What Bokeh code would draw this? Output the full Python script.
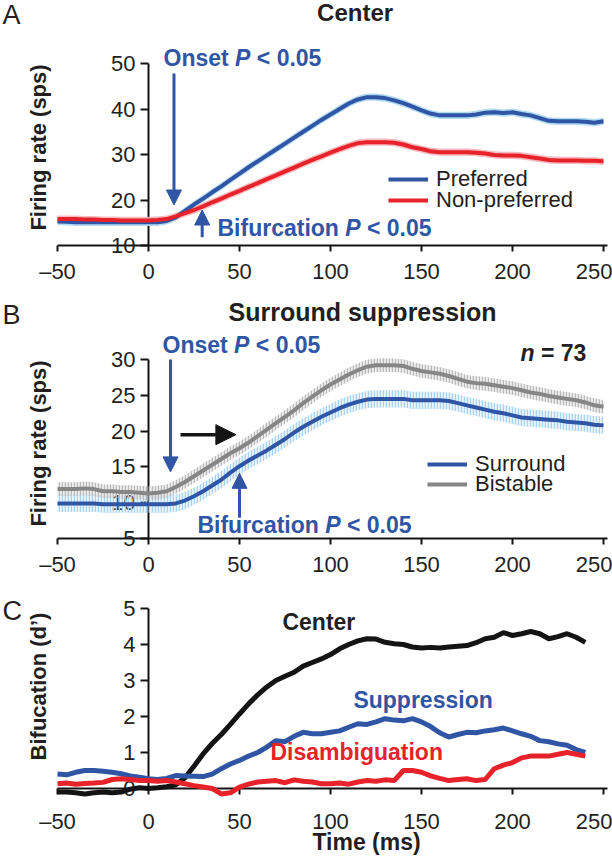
import math
from bokeh.plotting import figure
from bokeh.models import (LinearAxis, FixedTicker, Label, Arrow, NormalHead, Range1d,
                          Legend, LegendItem)
from bokeh.layouts import column
from bokeh.embed import file_html
from bokeh.resources import INLINE

# ---------------- data ----------------
time_ab = list(range(-50, 255, 5))
x_ticks = [-50, 0, 50, 100, 150, 200, 250]
x_tick_text = {-50: "\u201350"}

a_y_ticks = [10, 20, 30, 40, 50]
b_y_ticks = [5, 10, 15, 20, 25, 30]
c_y_ticks = [0, 1, 2, 3, 4, 5]

preferred = [15.3, 15.2, 15.1, 15.1, 15.1, 15.1, 15.1, 15.1, 15.1, 15.1,
             15.1, 15.1, 15.4, 16.2, 17.6, 19.0, 20.3, 21.7, 23.0, 24.4,
             25.8, 27.2, 28.5, 29.8, 31.1, 32.4, 33.7, 35.0, 36.3, 37.6,
             38.8, 40.0, 41.2, 42.1, 42.6, 42.6, 42.4, 41.9, 41.3, 40.5,
             39.7, 39.0, 38.6, 38.6, 38.6, 38.6, 38.8, 39.2, 39.3, 39.1,
             39.3, 38.9, 38.6, 38.0, 37.4, 37.3, 37.3, 37.3, 37.2, 37.0,
             37.3]
non_preferred = [15.8, 15.8, 15.8, 15.7, 15.7, 15.6, 15.6, 15.5, 15.5, 15.5,
                 15.5, 15.6, 15.8, 16.4, 17.1, 17.8, 18.6, 19.5, 20.3, 21.2,
                 22.0, 22.9, 23.7, 24.6, 25.4, 26.3, 27.1, 28.0, 28.8, 29.6,
                 30.4, 31.2, 31.9, 32.5, 32.7, 32.7, 32.7, 32.6, 32.2, 31.6,
                 31.2, 30.7, 30.5, 30.5, 30.5, 30.5, 30.4, 30.2, 29.9, 29.8,
                 29.8, 29.7, 29.4, 29.1, 28.8, 28.7, 28.7, 28.7, 28.6, 28.6,
                 28.5]
sem_a = 0.8

surround = [9.9, 9.9, 9.9, 9.9, 9.9, 9.8, 9.8, 9.8, 9.8, 9.8,
            9.8, 9.8, 9.8, 9.9, 10.3, 10.9, 11.6, 12.4, 13.2, 14.2,
            15.1, 15.9, 16.6, 17.3, 18.1, 18.9, 19.8, 20.6, 21.3, 22.0,
            22.6, 23.2, 23.7, 24.1, 24.4, 24.5, 24.5, 24.5, 24.5, 24.3,
            24.3, 24.3, 24.3, 24.2, 23.9, 23.6, 23.3, 23.0, 22.7, 22.5,
            22.2, 21.9, 21.8, 21.7, 21.6, 21.5, 21.3, 21.2, 21.1, 20.9,
            20.8]
bistable = [11.9, 11.9, 11.9, 12.0, 11.9, 11.6, 11.6, 11.5, 11.5, 11.4,
            11.3, 11.4, 11.6, 12.2, 12.9, 13.7, 14.5, 15.3, 16.1, 16.9,
            17.6, 18.4, 19.3, 20.2, 21.1, 22.0, 22.9, 23.9, 24.8, 25.7,
            26.5, 27.2, 27.9, 28.5, 29.0, 29.2, 29.2, 29.2, 29.1, 28.7,
            28.4, 28.2, 28.0, 27.7, 27.3, 26.9, 26.7, 26.6, 26.4, 26.2,
            26.0, 25.7, 25.4, 25.2, 24.9, 24.7, 24.5, 24.3, 24.0, 23.6,
            23.4]
sem_surround = 1.2
sem_bistable = 0.95

time_c = list(range(-50, 245, 5))
center_d = [-0.10, -0.10, -0.12, -0.15, -0.12, -0.10, -0.12, -0.10, -0.02, 0.02,
            0.00, 0.02, 0.05, 0.10, 0.30, 0.62, 0.96, 1.25, 1.50, 1.78,
            2.07, 2.35, 2.60, 2.82, 3.00, 3.12, 3.23, 3.40, 3.50, 3.60,
            3.72, 3.88, 4.00, 4.10, 4.16, 4.15, 4.06, 4.02, 4.00, 3.93,
            3.90, 3.92, 3.90, 3.93, 3.95, 3.97, 4.05, 4.16, 4.20, 4.33,
            4.25, 4.30, 4.36, 4.30, 4.16, 4.22, 4.30, 4.20, 4.06]
suppression_d = [0.40, 0.38, 0.45, 0.50, 0.50, 0.48, 0.45, 0.41, 0.35, 0.31,
                 0.27, 0.25, 0.28, 0.36, 0.35, 0.34, 0.33, 0.40, 0.55, 0.68,
                 0.78, 0.90, 1.00, 1.15, 1.33, 1.30, 1.45, 1.56, 1.52, 1.52,
                 1.56, 1.60, 1.70, 1.80, 1.78, 1.85, 1.94, 1.90, 1.88, 1.94,
                 1.85, 1.72, 1.55, 1.43, 1.50, 1.56, 1.55, 1.60, 1.63, 1.68,
                 1.60, 1.52, 1.45, 1.33, 1.30, 1.24, 1.20, 1.08, 1.00]
disamb_d = [0.13, 0.15, 0.12, 0.14, 0.15, 0.17, 0.25, 0.27, 0.25, 0.22,
            0.22, 0.20, 0.22, 0.18, 0.13, 0.08, 0.04, 0.00, -0.15, -0.12,
            0.04, 0.12, 0.18, 0.20, 0.22, 0.16, 0.24, 0.20, 0.18, 0.13,
            0.13, 0.15, 0.12, 0.18, 0.22, 0.20, 0.24, 0.22, 0.50, 0.50,
            0.45, 0.35, 0.28, 0.22, 0.25, 0.27, 0.22, 0.25, 0.55, 0.65,
            0.72, 0.85, 0.90, 0.90, 0.90, 0.95, 1.00, 0.95, 0.90]

# annotation positions (ms / data units)
a_onset_t, a_bif_t = 14.0, 29.5
b_onset_t, b_bif_t = 12.1, 50.0

# ---------------- style ----------------
FONT = "Liberation Sans"
BLUE = "#2f55a4"
RED = "#e8222b"
LBLUE = "#b3dbf0"
PINK = "#f5b3b8"
GRAY = "#868686"
LGRAY = "#b9b9b9"
HBLUE = "#a9d3ee"
BLACK = "#141414"
TXT = "#231f20"

W = 612
X0, SX = 148.0, 1.82
XR = (-X0 / SX, (W - X0) / SX)
T_LEFT = (2 - X0) / SX


def make_fig(h, yr):
    p = figure(width=W, height=h, x_range=Range1d(*XR), y_range=Range1d(*yr),
               x_axis_type=None, y_axis_type=None, toolbar_location=None,
               output_backend="svg", min_border=0, outline_line_color=None)
    p.min_border_left = p.min_border_right = p.min_border_top = p.min_border_bottom = 0
    return p


def add_axes(p, xloc, xbounds, yticks, ybounds, xstandoff):
    xa = LinearAxis(fixed_location=xloc, bounds=xbounds, ticker=FixedTicker(ticks=x_ticks),
                    major_label_overrides=x_tick_text)
    ya = LinearAxis(fixed_location=0, bounds=ybounds, ticker=FixedTicker(ticks=yticks))
    for ax, so, out in ((xa, xstandoff, 6), (ya, 5, 8)):
        ax.axis_line_color = BLACK
        ax.axis_line_width = 2
        ax.major_tick_line_color = BLACK
        ax.major_tick_line_width = 2
        ax.major_tick_in = 0
        ax.major_tick_out = out
        ax.minor_tick_line_color = None
        ax.major_label_text_font = FONT
        ax.major_label_text_font_size = "22px"
        ax.major_label_text_color = TXT
        ax.major_label_standoff = so
        ax.level = "underlay"
    p.add_layout(xa, "below")
    p.add_layout(ya, "left")


def text(p, x, y, s, size=23, color=TXT, style="bold", align="left",
         baseline="alphabetic", xoff=0, angle=0.0):
    yoff = round(0.4 * size) if baseline == "alphabetic" else 0
    p.add_layout(Label(x=x, y=y, text=s, text_font=FONT, text_font_size=f"{size}px",
                       text_font_style=style, text_color=color, text_align=align,
                       text_baseline=baseline, x_offset=xoff, y_offset=yoff, angle=angle))


def p_text(p, x, y, first, color):
    # "<first> P < 0.05" with italic P, 23px bold Arial metrics
    em = 23.0
    widths = {"Onset": 2.834, "Bifurcation": 5.278}
    w1 = widths[first] * em
    text(p, x, y, first, color=color)
    text(p, x, y, "P", color=color, style="bold italic", xoff=w1 + 0.278 * em)
    text(p, x, y, "< 0.05", color=color, xoff=w1 + (0.278 + 0.667 + 0.278) * em)


def arrow(p, x0, y0, x1, y1, color, size=15, width=3):
    p.add_layout(Arrow(x_start=x0, y_start=y0, x_end=x1, y_end=y1,
                       line_color=color, line_width=width,
                       end=NormalHead(size=size, fill_color=color, line_color=color,
                                      line_width=1)))


def legend_item(p, label, r, x, y_center_px, h):
    lg = Legend(items=[LegendItem(label=label, renderers=[r])],
                location=(x, h - y_center_px - 12.5),
                label_text_font=FONT, label_text_font_size="22px", label_text_color=TXT,
                glyph_width=40, glyph_height=20, label_standoff=8, padding=0, margin=0,
                spacing=0, border_line_color=None, background_fill_alpha=0)
    p.add_layout(lg)


# ---------------- panel A ----------------
HA = 290
def va(fy):
    return 10 + (245 - fy) / 4.55
pa = make_fig(HA, (va(HA), va(0)))
add_axes(pa, 10, (-50, 252), a_y_ticks, (10, 50), 7)

pa.varea(x=time_ab, y1=[v - sem_a for v in preferred], y2=[v + sem_a for v in preferred],
         fill_color=LBLUE, fill_alpha=1)
pa.varea(x=time_ab, y1=[v - sem_a for v in non_preferred], y2=[v + sem_a for v in non_preferred],
         fill_color=PINK, fill_alpha=0.9)
ra1 = pa.line(time_ab, preferred, line_color=BLUE, line_width=4)
ra2 = pa.line(time_ab, non_preferred, line_color=RED, line_width=4)

text(pa, T_LEFT, va(25), "A", size=27, style="normal")
text(pa, 113.5, va(22), "Center", size=24, align="center")
text(pa, -60.4, va(147), "Firing rate (sps)", size=22, align="center",
     baseline="middle", angle=math.pi / 2)
p_text(pa, 8.24, va(66.7), "Onset", BLUE)
p_text(pa, 37.9, va(236.7), "Bifurcation", BLUE)
arrow(pa, a_onset_t, 47.8, a_onset_t, 18.9, BLUE)
arrow(pa, a_bif_t, 11.8, a_bif_t, 17.8, BLUE)
legend_item(pa, "Preferred", ra1, 388, 179, HA)
legend_item(pa, "Non-preferred", ra2, 388, 200, HA)

# ---------------- panel B ----------------
HB = 290
def vb(fy):
    return 30 - (fy - 69) / 7.16
pb = make_fig(HB, (vb(HB), vb(0)))
add_axes(pb, 5, (-50, 252), b_y_ticks, (5, 30), 7)

pb.varea(x=time_ab, y1=[v - sem_surround for v in surround], y2=[v + sem_surround for v in surround],
         fill_color=HBLUE, fill_alpha=0.25, hatch_pattern="vertical_line", hatch_color=HBLUE,
         hatch_scale=3, hatch_weight=1.4)
pb.varea(x=time_ab, y1=[v - sem_bistable for v in bistable], y2=[v + sem_bistable for v in bistable],
         fill_color=LGRAY, fill_alpha=0.25, hatch_pattern="vertical_line", hatch_color=LGRAY,
         hatch_scale=3, hatch_weight=1.4)
rb1 = pb.line(time_ab, surround, line_color=BLUE, line_width=4)
rb2 = pb.line(time_ab, bistable, line_color=GRAY, line_width=4)

text(pb, T_LEFT, vb(35), "B", size=27, style="normal")
text(pb, 117.6, vb(31.7), "Surround suppression", size=25, align="center")
text(pb, -60.4, vb(153), "Firing rate (sps)", size=22, align="center",
     baseline="middle", angle=math.pi / 2)
p_text(pb, 7.7, vb(63.3), "Onset", BLUE)
p_text(pb, 26.9, vb(243.3), "Bifurcation", BLUE)
text(pb, 204.4, vb(71.7), "n", style="bold italic")
text(pb, 204.4, vb(71.7), "= 73", xoff=20.5)
arrow(pb, b_onset_t, 30.0, b_onset_t, 14.3, BLUE)
arrow(pb, b_bif_t, 7.9, b_bif_t, 14.1, BLUE)
arrow(pb, 17.6, 19.5, 48.0, 19.5, BLACK, size=20, width=3.5)
legend_item(pb, "Surround", rb1, 427, 174, HB)
legend_item(pb, "Bistable", rb2, 427, 194, HB)

# ---------------- panel C ----------------
HC = 278
def vc(fy):
    return (208 - fy) / 36.0
pc = make_fig(HC, (vc(HC), vc(0)))
add_axes(pc, 0, (-50, 252), c_y_ticks, (0, 5), 14)

pc.line(time_c, center_d, line_color=BLACK, line_width=5)
pc.line(time_c, suppression_d, line_color=BLUE, line_width=5)
pc.line(time_c, disamb_d, line_color=RED, line_width=5)

text(pc, T_LEFT, vc(41), "C", size=27, style="normal")
text(pc, -60.4, vc(106), "Bifucation (d\u2019)", size=22, align="center",
     baseline="middle", angle=math.pi / 2)
text(pc, 73.6, vc(50), "Center", color=TXT)
text(pc, 112.6, vc(128.3), "Suppression", color=BLUE)
text(pc, 67.0, vc(180), "Disambiguation", color=RED)
text(pc, 119.8, vc(270), "Time (ms)", align="center")

layout = column(pa, pb, pc, spacing=0)
open("out.html", "w").write(file_html(layout, INLINE))
